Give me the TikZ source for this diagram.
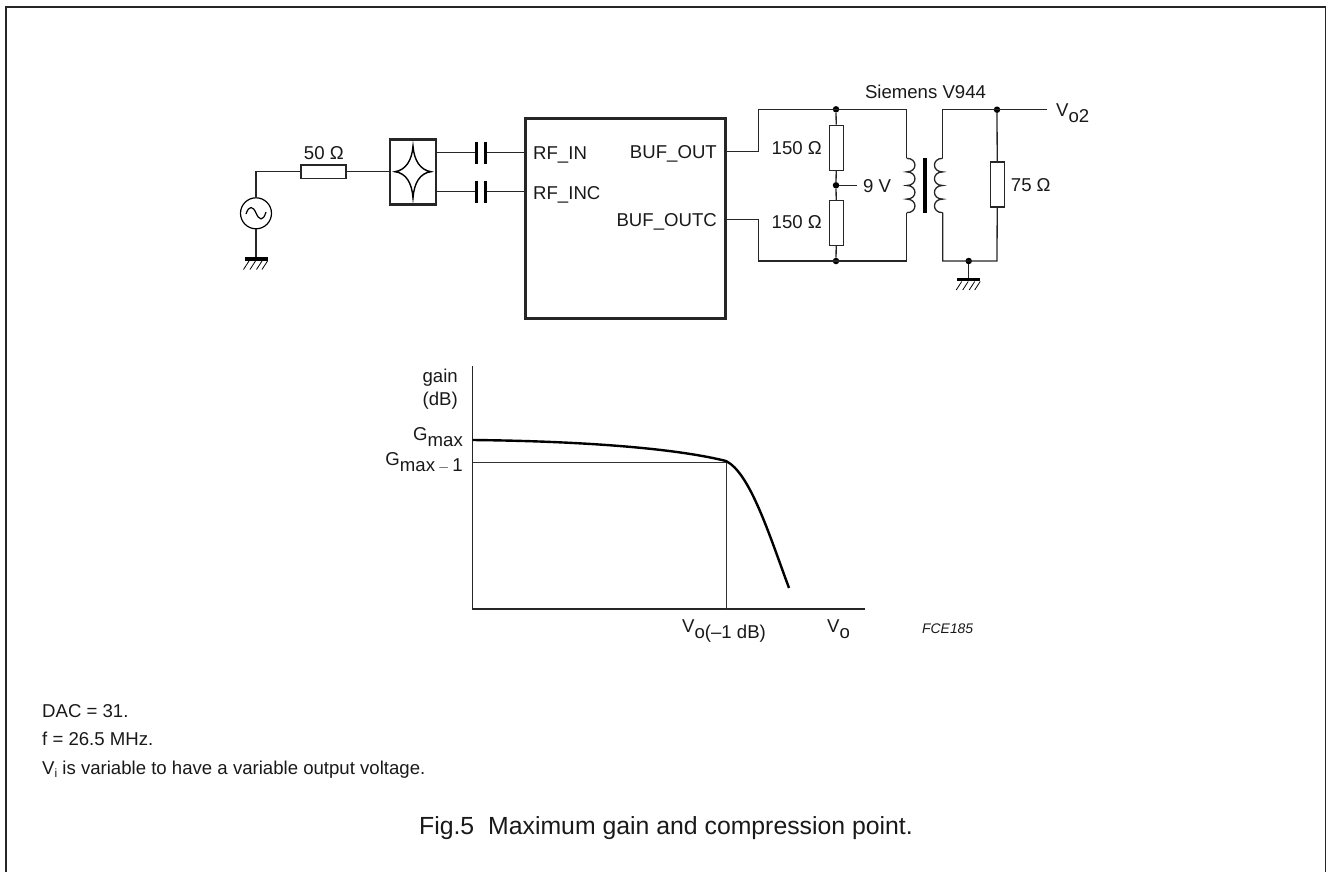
\documentclass[tikz,border=0pt]{standalone}
\usepackage{fontspec}
\setmainfont{Liberation Sans}
\usetikzlibrary{positioning,calc}

\newcommand{\lowtxt}[1]{\raisebox{-6pt}{#1}}
\tikzset{
	wire/.style={line width=1.3pt,black!85},
	thickbox/.style={draw,line width=2.6pt,black!85,inner sep=0pt},
	res/.style={draw,line width=1.2pt,black!85,fill=white,inner sep=0pt,minimum width=#1},
	res/.default=14pt,
	lab/.style={inner sep=0pt,font=\fontsize{18.6}{22.5}\selectfont,text=black!90},
	dot/.style={circle,fill=black,inner sep=0pt,minimum size=6.5pt},
	plate/.style={line width=3pt,black},
}

\begin{document}
\begin{tikzpicture}[x=1pt,y=-1pt]
\useasboundingbox (0,0) rectangle (1326,871);
\node[draw,line width=1.6pt,black!85,minimum width=1320pt,minimum height=880pt,anchor=north west,inner sep=0pt] (frame) at (5,6) {};

% source side
\node[draw,circle,line width=1.2pt,minimum size=31pt,inner sep=0pt] (src) at (256,213.3) {};
\draw[line width=1.2pt] (246,214) .. controls (249,205) and (253,206) .. (256,213) .. controls (259,220) and (263,222) .. (266,212);
\coordinate (gndA) at (256,259);
\node[res=45pt,minimum height=13.5pt] (r50) at (323.5,171.7) {};
\node[lab] (l50) at (323.8,152.7) {50 Ω};
\node[thickbox,minimum width=46pt,minimum height=65pt] (split) at (413,171.7) {};
\draw[line width=1.4pt] (413,146) .. controls (414,160) and (420,170) .. (431,171.7) .. controls (420,173) and (414,183) .. (413,198) .. controls (412,183) and (406,173) .. (395,171.7) .. controls (406,170) and (412,160) .. (413,146) -- cycle;
\draw[wire] (src.north)|-(r50.west);
\draw[wire] (r50.east)--(split.west);
\draw[wire] (src.south)--(gndA);

% main block
\node[thickbox,minimum width=200pt,minimum height=200pt,anchor=north west] (ic) at (524,117.3) {};
\foreach \n/\y/\b/\t in {in/152.7/159/RF\_IN,inc/191.7/199/RF\_INC}{
	\node[lab,anchor=base west] (l\n) at (533,\b) {\t};
	\coordinate (w\n) at (436,\y);
	\coordinate (p\n) at (476,\y);
	\coordinate (q\n) at (485.3,\y);
	\coordinate (e\n) at (524,\y);
	\draw[wire] (w\n)--(p\n);
	\draw[wire] (q\n)--(e\n);
	\draw[plate] ($(p\n)+(0,-11)$)--($(p\n)+(0,11)$);
	\draw[plate] ($(q\n)+(0,-11)$)--($(q\n)+(0,11)$);
}
\node[lab,anchor=base east] (lout) at (717,158) {BUF\_OUT};
\node[lab,anchor=base east] (loutc) at (717,226) {BUF\_OUTC};

% primary
\coordinate (o1) at (724.3,151.7);
\coordinate (o2) at (724.3,219.3);
\coordinate (a1) at (758.3,109.3);
\coordinate (a2) at (758.3,261);
\node[dot] (j1) at (836,109.3) {};
\node[dot] (j2) at (836,185.3) {};
\node[dot] (j3) at (836,261) {};
\node[res,minimum height=45pt] (r1) at (836.5,147.7) {};
\node[res,minimum height=45pt] (r2) at (836.5,223) {};
\node[lab,anchor=east] (lr1) at (822,147.7) {150 Ω};
\node[lab,anchor=east] (lr2) at (822,222) {150 Ω};
\node[lab,anchor=west] (l9) at (863,186) {9 V};
\coordinate (c1) at (906.7,158.3);
\coordinate (c2) at (906.7,212.7);
\coordinate (b1) at (906.7,109.3);
\coordinate (b2) at (906.7,261);
\draw[wire] (o1)-|(a1)--(b1)--(c1);
\draw[wire] (o2)-|(a2)--(b2)--(c2);
\draw[wire] (j1)--(r1);
\draw[wire] (r1)--(j2)--(r2);
\draw[wire] (r2)--(j3);
\draw[wire] (j2)--(856.7,185.3);
\draw[wire] (c1) \foreach \i in {1,...,4}{ .. controls +(11,0) and +(11,0) .. ++(0,13.6)};
\node[lab] (ls) at (925.5,91.5) {Siemens V944};

% core
\draw[line width=3.5pt] (925,158)--(925,212.7);

% secondary
\coordinate (c3) at (942.7,158.3);
\coordinate (c4) at (942.7,212.7);
\coordinate (d1) at (942.7,109.7);
\coordinate (d2) at (942.7,261);
\node[dot] (j4) at (997,109.7) {};
\node[dot] (j5) at (968.7,261) {};
\coordinate (d3) at (997,261);
\coordinate (vo) at (1047,109.7);
\node[res,minimum height=45pt] (r3) at (997.3,184.5) {};
\node[lab,anchor=west] (l75) at (1010.7,185) {75 Ω};
\node[lab,anchor=base west] (lvo) at (1056,116.5) {V\lowtxt{o2}};
\draw[wire] (c3)--(d1)--(vo);
\draw[wire] (c4)--(d2)--(d3)--(r3);
\draw[wire] (j4)--(r3);
\draw[wire] (c3) \foreach \i in {1,...,4}{ .. controls +(-11,0) and +(-11,0) .. ++(0,13.6)};
\coordinate (gndB) at (968.7,279.5);
\draw[wire] (j5)--(gndB);

% grounds
\foreach \g/\w in {gndA/11.5,gndB/11.5}{
	\draw[line width=3.6pt] ($(\g)+(-\w,0)$)--($(\g)+(\w,0)$);
	\foreach \k in {-7,-0.5,6,11.5}
		\draw[line width=.8pt] ($(\g)+(\k,2)$)--($(\g)+(\k-5.5,10.5)$);
}

% graph
\coordinate (org) at (472.7,609);
\coordinate (ytop) at (472.7,366);
\coordinate (xend) at (865,609);
\coordinate (kneeY) at (472.7,462.3);
\coordinate (kneeX) at (726,609);
\coordinate (knee) at (726,462.3);
\draw[wire] (ytop)--(org)--(xend);
\draw[line width=.9pt,black!80] (kneeY)--(knee)--(kneeX);
\draw[line width=2.4pt] (472.7,440) .. controls (570,441) and (670,447) .. (726,461) .. controls (750,473) and (769,534) .. (789,588);
\node[lab,align=right,anchor=north east] (lgain) at (458,369) {gain\\(dB)};
\node[lab,anchor=base east] (lgm) at (463,440) {G\lowtxt{max}};
\node[lab,anchor=base east] (lgm1) at (463,465) {G\lowtxt{max\,{\fontsize{14}{14}\selectfont$-$}\,1}};
\node[lab,anchor=base west] (lvx) at (682,632) {V\lowtxt{o(--1 dB)}};
\node[lab,anchor=base west] (lvy) at (827,632) {V\lowtxt{o}};
\node[lab,font=\fontsize{13.9}{16}\itshape\selectfont,anchor=base west] (lfce) at (922,633) {FCE185};

% notes
\node[lab,anchor=base west] (n1) at (42,717) {DAC = 31.};
\node[lab,anchor=base west] (n2) at (42,745) {f = 26.5 MHz.};
\node[lab,anchor=base west] (n3) at (42,774) {V\raisebox{-3pt}{\fontsize{12}{12}\selectfont i} is variable to have a variable output voltage.};
\node[lab,font=\fontsize{24.8}{28}\selectfont,anchor=base east] (cap) at (913,834) {Fig.5\hspace{14pt}Maximum gain and compression point.};

\end{tikzpicture}
\end{document}
